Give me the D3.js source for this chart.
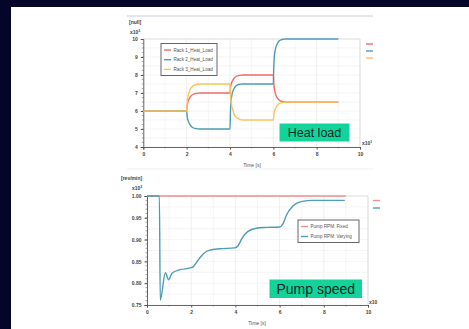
<!DOCTYPE html>
<html>
<head>
<meta charset="utf-8">
<script src="https://cdn.jsdelivr.net/npm/d3@7"></script>
<style>
  html, body { margin: 0; padding: 0; background: #05052a; }
  svg { display: block; font-family: "Liberation Sans", Arial, sans-serif; }
  .tick text { font-size: 5px; font-weight: bold; fill: #444; }
  .axis path, .axis line { stroke: #555; }
</style>
</head>
<body>
<svg id="chart" width="469" height="329"></svg>
<script>
// ---- data (time in x10^1 s) ----
const heatSeries = ["Rack 1_Heat_Load", "Rack 2_Heat_Load", "Rack 3_Heat_Load"];
const rack1Load = [[0, 6], [2, 6], [2.03, 6.35], [2.07, 6.55], [2.13, 6.7], [2.2, 6.83], [2.3, 6.93], [2.45, 6.98], [2.6, 7], [4, 7],
  [4.03, 7.35], [4.07, 7.55], [4.13, 7.7], [4.2, 7.83], [4.3, 7.93], [4.45, 7.98], [4.6, 8], [6, 8],
  [6.03, 7.45], [6.07, 7.1], [6.13, 6.85], [6.2, 6.7], [6.3, 6.58], [6.45, 6.52], [6.6, 6.5], [9, 6.5]];
const rack2Load = [[0, 6], [2, 6], [2.03, 5.65], [2.07, 5.45], [2.13, 5.3], [2.2, 5.17], [2.3, 5.07], [2.45, 5.02], [2.6, 5], [4, 5],
  [4.02, 5.9], [4.05, 6.55], [4.1, 6.95], [4.17, 7.2], [4.25, 7.36], [4.35, 7.45], [4.5, 7.49], [4.6, 7.5], [6, 7.5],
  [6.02, 8.4], [6.05, 9.05], [6.1, 9.45], [6.17, 9.7], [6.25, 9.86], [6.35, 9.95], [6.5, 9.99], [6.6, 10], [9, 10]];
const rack3Load = [[0, 6], [2, 6], [2.03, 6.55], [2.07, 6.85], [2.13, 7.08], [2.2, 7.27], [2.3, 7.4], [2.45, 7.47], [2.6, 7.5],
  [4, 7.5], [4.03, 6.8], [4.07, 6.35], [4.13, 6.05], [4.2, 5.8], [4.3, 5.64], [4.45, 5.54], [4.6, 5.5], [6, 5.5],
  [6.03, 5.85], [6.07, 6.05], [6.13, 6.2], [6.2, 6.33], [6.3, 6.43], [6.45, 6.48], [6.6, 6.5], [9, 6.5]];

const pumpSeries = ["Pump RPM: Fixed", "Pump RPM: Varying"];
const pumpFixed = [[0, 1.0], [9, 1.0]];
const pumpVarying = [[0, 1.0], [0.56, 1.0], [0.6, 0.761], [0.83, 0.824], [0.98, 0.808], [1.13, 0.823],
  [1.5, 0.831], [1.95, 0.835], [2.1, 0.838], [2.3, 0.852], [2.54, 0.867], [2.84, 0.876], [3.29, 0.879],
  [3.97, 0.881], [4.12, 0.886], [4.3, 0.903], [4.57, 0.919], [4.95, 0.926], [5.4, 0.928], [6.0, 0.929],
  [6.15, 0.936], [6.32, 0.957], [6.6, 0.977], [6.98, 0.987], [7.5, 0.99], [8.95, 0.99]];

const xTicks = [0, 2, 4, 6, 8, 10];
const heatTicks = [4, 5, 6, 7, 8, 9, 10];
const pumpTicks = [0.75, 0.8, 0.85, 0.9, 0.95, 1.0];

const red = "#f26a6a", blue = "#4d9cb6", orange = "#fcc35b";

const svg = d3.select("#chart");

// frame: navy border, white page
svg.append("rect").attr("width", 469).attr("height", 329).attr("fill", "#05052a");
svg.append("rect").attr("x", 11).attr("y", 7).attr("width", 458).attr("height", 322).attr("fill", "#fff");

svg.append("line").attr("x1", 127).attr("x2", 373).attr("y1", 16).attr("y2", 16)
  .attr("stroke", "#c9c9dc").attr("stroke-width", 1);
svg.append("line").attr("x1", 127).attr("x2", 373).attr("y1", 169).attr("y2", 169)
  .attr("stroke", "#f0f0f4").attr("stroke-width", 1);

const drawPanel = (cfg) => {
  const { left, right, top, bottom } = cfg.box;
  const x = d3.scaleLinear().domain([0, 10]).range([left, right]);
  const y = d3.scaleLinear().domain(cfg.yDomain).range([bottom, top]);
  const g = svg.append("g");

  // grid
  const grid = g.append("g");
  grid.selectAll(".gx").data(d3.range(0, 10.01, 1)).join("line")
    .attr("x1", d => x(d)).attr("x2", d => x(d)).attr("y1", top).attr("y2", bottom)
    .attr("stroke", d => d % 2 === 0 ? "#e4e4e4" : "#efefef").attr("stroke-width", 0.6);
  grid.selectAll(".gy").data(cfg.gridY).join("line")
    .attr("x1", left).attr("x2", right).attr("y1", d => y(d)).attr("y2", d => y(d))
    .attr("stroke", "#ececec").attr("stroke-width", 0.6);
  g.append("path")
    .attr("d", `M${left},${top}H${right}V${bottom}`)
    .attr("fill", "none").attr("stroke", "#dcdcdc").attr("stroke-width", 0.8);

  // minor ticks
  g.append("g").selectAll("line").data(cfg.minorY).join("line")
    .attr("x1", left - 1.5).attr("x2", left).attr("y1", d => y(d)).attr("y2", d => y(d))
    .attr("stroke", "#555").attr("stroke-width", 0.5);
  g.append("g").selectAll("line").data(d3.range(1, 10, 2)).join("line")
    .attr("y1", bottom).attr("y2", bottom + 1.5).attr("x1", d => x(d)).attr("x2", d => x(d))
    .attr("stroke", "#555").attr("stroke-width", 0.5);

  g.append("g").attr("class", "axis")
    .attr("transform", `translate(0,${bottom})`)
    .call(d3.axisBottom(x).tickValues(xTicks).tickSize(2.5).tickPadding(3).tickFormat(d3.format("d")))
    .call(a => a.select(".domain").attr("stroke-width", 0.9));
  g.append("g").attr("class", "axis")
    .attr("transform", `translate(${left},0)`)
    .call(d3.axisLeft(y).tickValues(cfg.yTicks).tickSize(2.5).tickPadding(3).tickFormat(cfg.fmt))
    .call(a => a.select(".domain").attr("stroke-width", 0.9));

  // lines
  const line = d3.line().x(d => x(d[0])).y(d => y(d[1])).curve(d3.curveMonotoneX);
  cfg.series.forEach(s => {
    g.append("path").datum(s.data)
      .attr("fill", "none").attr("stroke", s.color).attr("stroke-width", 1.4)
      .attr("stroke-linejoin", "round").attr("d", line);
  });

  // unit labels
  const lab = (tx, ty, t, size = 5) => g.append("text").attr("x", tx).attr("y", ty)
    .attr("font-size", size).attr("font-weight", "bold").attr("fill", "#444").text(t);
  lab(cfg.unit[0], cfg.unit[1], cfg.unitText);
  const e1 = lab(cfg.exp[0], cfg.exp[1], "x10");
  e1.append("tspan").attr("dy", -2).attr("font-size", 3.5).text("3");
  const e2 = lab(cfg.expX[0], cfg.expX[1], "x10");
  if (cfg.expXSup) e2.append("tspan").attr("dy", -2).attr("font-size", 3.5).text(cfg.expXSup);
  g.append("text").attr("x", cfg.timeX).attr("y", cfg.timeY).attr("text-anchor", "middle")
    .attr("font-size", 5).attr("fill", "#555").text("Time [s]");

  // legend box
  const lg = cfg.legend;
  g.append("rect").attr("x", lg.x).attr("y", lg.y).attr("width", lg.w).attr("height", lg.h)
    .attr("fill", "#fff").attr("stroke", "#666").attr("stroke-width", 1);
  cfg.series.forEach((s, i) => {
    const yy = lg.y + lg.first + i * lg.step;
    g.append("line").attr("x1", lg.x + 3).attr("x2", lg.x + 10).attr("y1", yy).attr("y2", yy)
      .attr("stroke", s.color).attr("stroke-width", 1.4);
    g.append("text").attr("x", lg.x + 12.5).attr("y", yy + 1.6).attr("font-size", 4.6)
      .attr("fill", "#555").text(s.name);
  });

  // clipped legend stubs on the right
  cfg.series.forEach((s, i) => {
    const yy = cfg.stub.y + i * cfg.stub.step;
    g.append("line").attr("x1", cfg.stub.x).attr("x2", cfg.stub.x + 7).attr("y1", yy).attr("y2", yy)
      .attr("stroke", s.color).attr("stroke-width", 1.4);
  });

  // green caption
  const c = cfg.caption;
  g.append("rect").attr("x", c.x).attr("y", c.y).attr("width", c.w).attr("height", c.h).attr("fill", "#14d39a");
  g.append("text").attr("x", c.x + c.w / 2).attr("y", c.y + c.h / 2 + c.size * 0.36)
    .attr("text-anchor", "middle").attr("font-size", c.size).attr("fill", "#0b2a22").text(c.text);
};

drawPanel({
  box: { left: 143.3, right: 360, top: 39, bottom: 147 },
  yDomain: [4, 10], yTicks: heatTicks, fmt: d3.format("d"),
  gridY: d3.range(4, 10.01, 0.5), minorY: d3.range(4.25, 10, 0.25),
  series: [
    { name: heatSeries[0], data: rack1Load, color: red },
    { name: heatSeries[1], data: rack2Load, color: blue },
    { name: heatSeries[2], data: rack3Load, color: orange }
  ],
  unit: [129, 23.5], unitText: "[null]",
  exp: [130, 33.5], expX: [362, 145], expXSup: "1",
  timeX: 252, timeY: 167,
  legend: { x: 161, y: 43.5, w: 56, h: 32, first: 6.5, step: 9.7 },
  stub: { x: 366, y: 44, step: 7 },
  caption: { x: 279.5, y: 123.5, w: 70, h: 18, size: 12.5, text: "Heat load" }
});

drawPanel({
  box: { left: 147, right: 368, top: 196, bottom: 305 },
  yDomain: [0.75, 1.0], yTicks: pumpTicks, fmt: d3.format(".2f"),
  gridY: d3.range(0.75, 1.001, 0.025), minorY: d3.range(0.76, 1.0, 0.01),
  series: [
    { name: pumpSeries[0], data: pumpFixed, color: "#f58f8f" },
    { name: pumpSeries[1], data: pumpVarying, color: blue }
  ],
  unit: [121, 179.5], unitText: "[rev/min]",
  exp: [132, 189.5], expX: [369, 303.5], expXSup: null,
  timeX: 257, timeY: 325,
  legend: { x: 298, y: 220, w: 61, h: 22.5, first: 6.5, step: 10 },
  stub: { x: 373, y: 200.5, step: 7.5 },
  caption: { x: 269.5, y: 279.5, w: 92.5, h: 18.5, size: 14, text: "Pump speed" }
});
</script>
</body>
</html>
